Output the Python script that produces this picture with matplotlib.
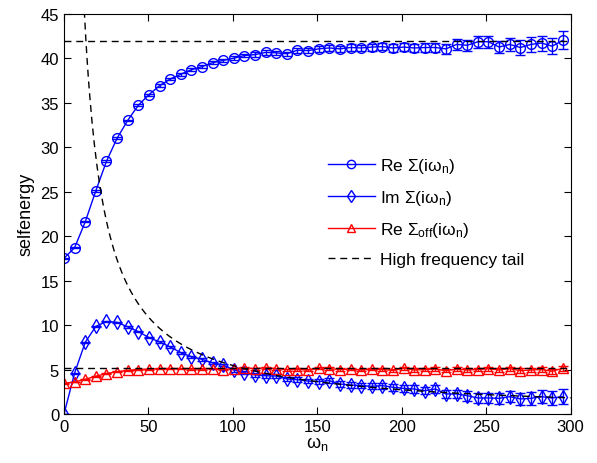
import numpy as np
import matplotlib
matplotlib.use('Agg')
import matplotlib.pyplot as plt
from matplotlib.lines import Line2D

plt.rcParams['font.family'] = ['Liberation Sans', 'DejaVu Sans']
plt.rcParams['mathtext.default'] = 'regular'

# Matsubara index, omega_n = 2*pi*n
n_idx = np.arange(48)
omega = 2 * np.pi * n_idx

re_sigma = [17.5, 18.7, 21.6, 25.1, 28.4, 31.0, 33.0, 34.7, 35.9, 36.9,
            37.65, 38.2, 38.7, 39.05, 39.5, 39.75, 40.0, 40.3, 40.4, 40.65,
            40.6, 40.5, 40.9, 40.85, 41.05, 41.15, 41.05, 41.2, 41.15, 41.25,
            41.3, 41.15, 41.25, 41.15, 41.2, 41.2, 41.05, 41.55, 41.45, 41.85,
            41.85, 41.25, 41.55, 41.2, 41.55, 41.7, 41.35, 42.0]
re_err = [0.05, 0.05, 0.05, 0.1, 0.1, 0.1, 0.1, 0.1, 0.1, 0.15,
          0.15, 0.15, 0.15, 0.15, 0.2, 0.2, 0.2, 0.2, 0.25, 0.25,
          0.25, 0.25, 0.3, 0.3, 0.3, 0.3, 0.35, 0.35, 0.35, 0.4,
          0.4, 0.45, 0.45, 0.5, 0.5, 0.55, 0.6, 0.6, 0.65, 0.65,
          0.7, 0.7, 0.75, 0.8, 0.8, 0.85, 0.9, 1.0]

im_sigma = [0.0, 4.6, 8.06, 9.85, 10.4, 10.3, 9.8, 9.26, 8.6, 8.1,
            7.55, 6.9, 6.45, 6.15, 5.75, 5.5, 4.95, 4.65, 4.4, 4.3,
            4.27, 3.94, 3.86, 3.7, 3.64, 3.75, 3.37, 3.26, 3.19, 3.11,
            3.19, 3.0, 2.89, 2.81, 2.62, 2.81, 2.25, 2.25, 2.06, 1.8,
            1.8, 1.76, 1.95, 1.69, 1.76, 1.95, 1.8, 1.95]
im_err = [0.02, 0.05, 0.05, 0.05, 0.05, 0.05, 0.08, 0.08, 0.1, 0.1,
          0.1, 0.12, 0.12, 0.15, 0.15, 0.15, 0.18, 0.18, 0.2, 0.2,
          0.2, 0.22, 0.25, 0.25, 0.25, 0.28, 0.3, 0.3, 0.32, 0.35,
          0.35, 0.38, 0.4, 0.4, 0.42, 0.45, 0.48, 0.5, 0.55, 0.58,
          0.6, 0.62, 0.65, 0.7, 0.72, 0.75, 0.8, 0.85]

re_off = [3.45, 3.6, 3.9, 4.25, 4.55, 4.75, 4.9, 5.0, 5.05, 5.1,
          5.1, 5.1, 5.05, 5.05, 5.1, 5.0, 5.1, 5.2, 5.1, 5.2,
          5.1, 5.0, 5.0, 4.95, 5.2, 5.1, 5.0, 5.05, 4.95, 5.05,
          5.0, 4.9, 5.15, 4.95, 5.0, 5.05, 4.87, 5.05, 4.95, 5.0,
          5.1, 4.95, 5.1, 4.87, 4.95, 5.0, 4.8, 5.15]
off_err = [0.03, 0.03, 0.03, 0.04, 0.04, 0.05, 0.05, 0.05, 0.06, 0.06,
           0.07, 0.07, 0.08, 0.08, 0.08, 0.09, 0.09, 0.1, 0.1, 0.1,
           0.11, 0.11, 0.12, 0.12, 0.13, 0.13, 0.14, 0.14, 0.15, 0.15,
           0.16, 0.16, 0.17, 0.18, 0.18, 0.19, 0.2, 0.2, 0.21, 0.22,
           0.22, 0.23, 0.24, 0.25, 0.26, 0.27, 0.28, 0.3]

# high frequency tail: constants and 1/omega decay
re_inf = 41.9
off_inf = 5.15
tail_coef = 545.0

labels = ['Re Σ(iω$_{n}$)', 'Im Σ(iω$_{n}$)', 'Re Σ$_{off}$(iω$_{n}$)',
          'High frequency tail']

fig = plt.figure(figsize=(5.97, 4.64), dpi=100)
ax = fig.add_axes([0.1072, 0.1056, 0.8487, 0.8627])

mk = dict(markersize=7, markerfacecolor='none', markeredgewidth=1.0,
          linewidth=1.0, capsize=3.5, elinewidth=1.0)
ax.errorbar(omega, re_sigma, yerr=re_err, fmt='-o', color='b', **mk)
ax.errorbar(omega, im_sigma, yerr=im_err, fmt='-d', color='b', **mk)
ax.errorbar(omega, re_off, yerr=off_err, fmt='-^', color='r', **mk)

dash = (0, (5, 3.5))
w_tail = np.linspace(10, 300, 400)
ax.plot(w_tail, tail_coef / w_tail, color='k', linestyle=dash, linewidth=1.0, zorder=5)
ax.plot([0, 300], [re_inf, re_inf], color='k', linestyle=dash, linewidth=1.0, zorder=5)
ax.plot([0, 300], [off_inf, off_inf], color='k', linestyle=dash, linewidth=1.0, zorder=5)

ax.set_xlim(0, 300)
ax.set_ylim(0, 45)
ax.set_xticks(np.arange(0, 301, 50))
ax.set_yticks(np.arange(0, 46, 5))
ax.tick_params(direction='in', top=True, right=True, labelsize=12, length=5)
ax.set_xlabel('ω$_{n}$', fontsize=13, labelpad=0)
ax.set_ylabel('selfenergy', fontsize=13, labelpad=4)

handles = [
    Line2D([], [], color='b', marker='o', markersize=6, markerfacecolor='none', lw=1.0),
    Line2D([], [], color='b', marker='d', markersize=6, markerfacecolor='none', lw=1.0),
    Line2D([], [], color='r', marker='^', markersize=6, markerfacecolor='none', lw=1.0),
    Line2D([], [], color='k', linestyle=dash, lw=1.0),
]
ax.legend(handles, labels, loc='upper left', bbox_to_anchor=(0.521, 0.645),
          frameon=False, fontsize=12.5, handlelength=2.7, labelspacing=0.75,
          handletextpad=0.3, borderpad=0, borderaxespad=0)

fig.savefig('out.png', dpi=100)
